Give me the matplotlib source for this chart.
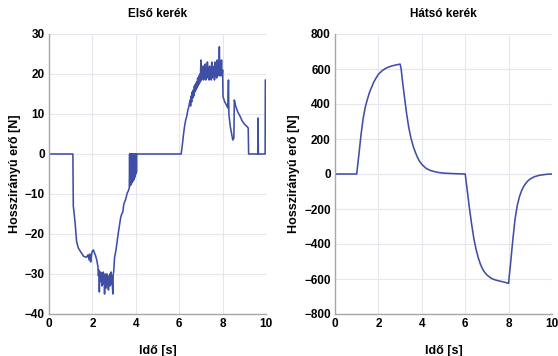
import matplotlib.pyplot as plt

plt.rcParams['font.family'] = ['Liberation Sans', 'DejaVu Sans']
plt.rcParams['font.weight'] = 'bold'

# front wheel longitudinal force
t_front = [0, 1.1, 1.12, 1.2, 1.27, 1.35, 1.5, 1.6, 1.73, 1.8, 1.85, 1.88, 1.92, 1.95,
           2.0, 2.05, 2.1, 2.15, 2.2, 2.25,
           2.28, 2.30, 2.32, 2.34, 2.36, 2.38, 2.40, 2.42, 2.44, 2.46, 2.48, 2.50,
           2.52, 2.54, 2.56, 2.58, 2.60, 2.62, 2.64, 2.66, 2.68, 2.70, 2.72, 2.74,
           2.76, 2.78, 2.80, 2.82, 2.84, 2.86, 2.88, 2.90, 2.92, 2.94, 2.96, 2.98,
           3.02, 3.1, 3.2, 3.3, 3.34, 3.4, 3.45, 3.5, 3.55, 3.6, 3.65,
           3.70, 3.715, 3.73, 3.745, 3.76, 3.775, 3.79, 3.805, 3.82, 3.835, 3.85,
           3.865, 3.88, 3.895, 3.91, 3.925, 3.94, 3.955, 3.97, 3.985, 4.0, 4.015,
           4.03, 4.045,
           6.09, 6.15, 6.2, 6.25, 6.3, 6.35, 6.4, 6.45,
           6.5, 6.525, 6.55, 6.575, 6.6, 6.625, 6.65, 6.675, 6.7, 6.725, 6.75, 6.775,
           6.8, 6.825, 6.85, 6.875, 6.9, 6.925, 6.95, 6.975, 7.0, 7.025, 7.05, 7.075,
           7.1, 7.125, 7.15, 7.175, 7.2, 7.225, 7.25, 7.275, 7.3, 7.325, 7.35, 7.375,
           7.4, 7.425, 7.45, 7.475, 7.5, 7.525, 7.55, 7.575, 7.6, 7.625, 7.65, 7.675,
           7.7, 7.725, 7.75, 7.775, 7.8, 7.825, 7.85, 7.875, 7.9, 7.925, 7.95, 7.975,
           8.0, 8.02, 8.1, 8.2, 8.24, 8.27, 8.29, 8.35, 8.4, 8.47, 8.52, 8.54, 8.6,
           8.7, 8.8, 8.9, 9.0, 9.1, 9.18, 9.2, 9.62, 9.63, 9.65, 9.96, 9.97, 10.0]
f_front = [0, 0, -13, -17, -21.8, -23.5, -24.8, -25.6, -25.8, -25.2, -26.5, -25.0, -27.0, -25.5,
           -24.2, -24.0, -24.8, -25.5, -26.5, -28.0,
           -30.5, -29.0, -34.5, -30.0, -31.5, -29.5, -32.0, -30.0, -33.0, -30.5, -31.0, -29.5,
           -32.5, -30.0, -35.0, -31.0, -32.0, -30.0, -33.5, -31.0, -30.0, -32.5, -31.0, -34.0,
           -30.5, -32.0, -30.0, -33.0, -31.5, -29.5, -32.5, -30.5, -33.0, -35.0, -30.0, -29.5,
           -26.0, -23.5, -19.5, -16.0, -15.2, -14.5, -12.5, -11.8, -11.0, -9.8, -9.3,
           -8.5, 0, -8.0, 0, -7.8, 0, -7.5, 0, -7.2, 0, -7.0,
           0, -6.5, 0, -6.5, 0, -6.0, 0, -5.5, 0, -5.0, 0,
           -4.5, 0,
           0, 2.5, 5, 7, 8.5, 9.5, 11, 12,
           13.5, 12, 14.5, 13, 15.5, 14, 16, 14.5, 17, 15.5, 17.5, 16,
           18, 16.5, 19, 17, 19.5, 17.5, 20, 18, 23.5, 18.5, 21, 19,
           22, 18.5, 21.5, 19, 22.5, 18.5, 21, 19.5, 23, 19, 21.5, 18.5,
           22, 19.5, 21, 18.5, 23, 19, 22, 19.5, 21.5, 18.5, 23, 19.5,
           22, 19, 23.5, 19.5, 22, 20, 26.8, 19.5, 22.5, 20, 23.5, 19.5,
           21, 14.3, 13, 12, 11.5, 18.5, 10, 7, 5.5, 3.5, 4.0, 13.5, 12,
           10.5, 9.5, 8.3, 7.5, 7.0, 6.5, 0, 0, 9, 0, 0, 18.5, 18.5]

# rear wheel longitudinal force
t_rear = [0, 1.0, 1.1, 1.2, 1.3, 1.4, 1.5, 1.6, 1.7, 1.8, 1.9, 2.0, 2.2, 2.4, 2.6, 2.8, 3.0,
          3.05, 3.1, 3.2, 3.3, 3.4, 3.5, 3.6, 3.7, 3.8, 3.9, 4.0, 4.2, 4.4, 4.6, 4.8, 5.0,
          5.5, 6.0,
          6.05, 6.1, 6.2, 6.3, 6.4, 6.5, 6.6, 6.7, 6.8, 6.9, 7.0, 7.2, 7.4, 7.6, 7.8, 8.0,
          8.05, 8.1, 8.15, 8.2, 8.3, 8.4, 8.5, 8.6, 8.7, 8.8, 8.9, 9.0, 9.2, 9.4, 9.6,
          9.8, 10.0]
f_rear = [0, 0, 110, 225, 320, 385, 430, 470, 500, 528, 550, 570, 593, 608, 617, 623, 628,
          600, 540, 440, 345, 265, 205, 160, 125, 95, 72, 55, 32, 20, 13, 8, 5,
          2, 0,
          -50, -100, -200, -290, -370, -430, -478, -515, -543, -562, -577, -596, -606,
          -612, -618, -625,
          -560, -500, -434, -370, -255, -180, -130, -95, -70, -52, -38, -28, -15, -8, -4,
          -1, 0]

titles = ['Első kerék', 'Hátsó kerék']
ylims = [(-40, 30), (-800, 800)]
yticks = [range(-40, 31, 10), range(-800, 801, 200)]
xticks = range(0, 11, 2)

fig = plt.figure(figsize=(5.58, 3.56), dpi=100)
ax1 = fig.add_axes([49 / 558, 42 / 356, 217 / 558, 280 / 356])
ax2 = fig.add_axes([335 / 558, 42 / 356, 217 / 558, 280 / 356])

for ax, t, f, title, ylim, yt in zip([ax1, ax2], [t_front, t_rear], [f_front, f_rear],
                                     titles, ylims, yticks):
    ax.plot(t, f, color='#3f4fa6', lw=1.15)
    ax.set_xlim(0, 10)
    ax.set_ylim(*ylim)
    ax.set_xticks(list(xticks))
    ax.set_yticks(list(yt))
    ax.grid(True, color='#e6e6ee', lw=0.8)
    ax.set_axisbelow(True)
    for s in ['top', 'right']:
        ax.spines[s].set_visible(False)
    for s in ['left', 'bottom']:
        ax.spines[s].set_color('#a8a8a8')
        ax.spines[s].set_linewidth(1.0)
    ax.tick_params(length=0, labelsize=8.5, pad=3)
    ax.set_title(title, fontsize=8.5, fontweight='bold', pad=12)
    ax.set_xlabel('Idő [s]', fontsize=9, fontweight='bold', labelpad=11)
    ax.set_ylabel('Hosszirányú erő [N]', fontsize=9, fontweight='bold', labelpad=3)

fig.savefig('out.png', dpi=100)
